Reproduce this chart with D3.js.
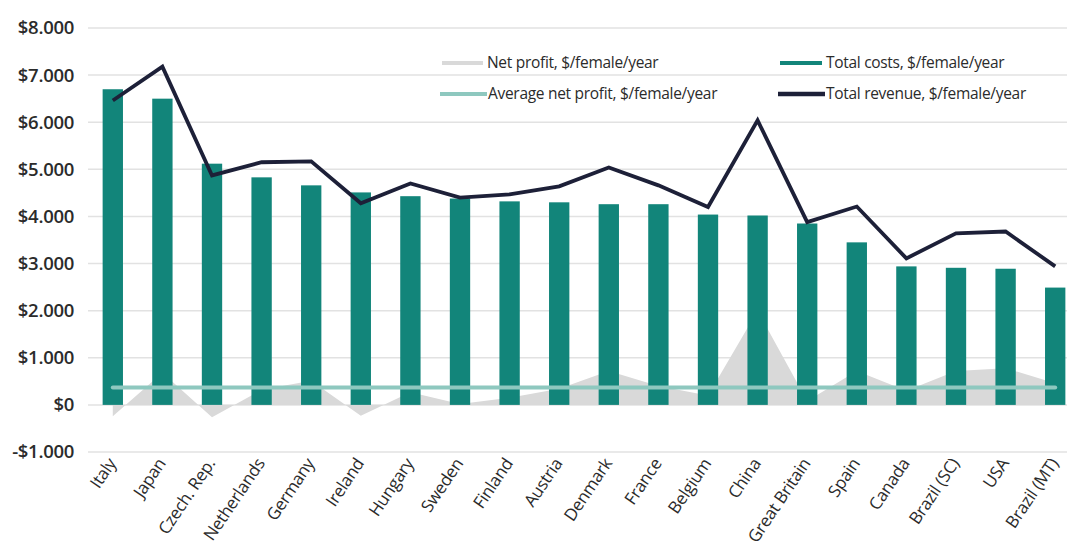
<!DOCTYPE html>
<html>
<head>
<meta charset="utf-8">
<script src="https://cdn.jsdelivr.net/npm/d3@7/dist/d3.min.js"></script>
<style>
  html, body { margin: 0; padding: 0; background: #fff; }
  svg { display: block; }
  text { font-family: "Open Sans", "Noto Sans", sans-serif; }
</style>
</head>
<body>
<svg id="chart" width="1067" height="554"></svg>
<script>
const categories = ["Italy", "Japan", "Czech. Rep.", "Netherlands", "Germany", "Ireland", "Hungary", "Sweden", "Finland", "Austria", "Denmark", "France", "Belgium", "China", "Great Britain", "Spain", "Canada", "Brazil (SC)", "USA", "Brazil (MT)"];
const totalCosts = [6700, 6500, 5120, 4830, 4660, 4510, 4430, 4380, 4320, 4300, 4260, 4260, 4040, 4020, 3850, 3450, 2940, 2910, 2890, 2490];
const totalRevenue = [6460, 7180, 4870, 5150, 5170, 4280, 4700, 4400, 4470, 4640, 5040, 4660, 4200, 6040, 3880, 4210, 3110, 3640, 3680, 2940];
const netProfit = [-240, 680, -260, 320, 510, -230, 270, 20, 150, 340, 720, 400, 200, 2000, 80, 720, 300, 720, 780, 460];
const averageNetProfit = 370;
const yTicks = [-1000, 0, 1000, 2000, 3000, 4000, 5000, 6000, 7000, 8000];
const legendItems = [
  { label: "Net profit, $/female/year", key: "profit" },
  { label: "Total costs, $/female/year", key: "costs" },
  { label: "Average net profit, $/female/year", key: "avg" },
  { label: "Total revenue, $/female/year", key: "revenue" }
];

const colors = { profit: "#d9d9d9", costs: "#12857a", avg: "#8ec8bf", revenue: "#1d2038", grid: "#e2e2e2", text: "#2b2b2b" };

const svg = d3.select("#chart");
const plotLeft = 88, plotRight = 1080, gridRight = 1067;
const x = d3.scaleBand().domain(categories).range([plotLeft, plotRight]).paddingInner(0.59).paddingOuter(0.295);
const y = d3.scaleLinear().domain([-1000, 8000]).range([452, 28]);
const cx = d => x(d) + x.bandwidth() / 2;

const fmt = v => {
  const s = v < 0 ? "-$" : "$";
  const a = Math.abs(v);
  if (a === 0) return "$0";
  return s + Math.floor(a / 1000) + "." + String(a % 1000).padStart(3, "0");
};

// gridlines
svg.append("g").selectAll("line").data(yTicks).join("line")
  .attr("x1", plotLeft).attr("x2", gridRight)
  .attr("y1", d => y(d)).attr("y2", d => y(d))
  .attr("stroke", colors.grid).attr("stroke-width", 1.5);

// y axis labels
const yAxis = d3.axisLeft(y).tickValues(yTicks).tickFormat(fmt).tickSize(0).tickPadding(0);
const yg = svg.append("g").attr("transform", `translate(74,0)`).call(yAxis);
yg.select(".domain").remove();
yg.selectAll("text").attr("font-size", 18.5).attr("font-weight", 600).attr("fill", colors.text)
  .attr("font-family", "\"Open Sans\", sans-serif").attr("letter-spacing", "-0.3");

// net profit area
const area = d3.area().x((d, i) => cx(categories[i])).y0(y(0)).y1(d => y(d));
svg.append("path").datum(netProfit).attr("d", area).attr("fill", colors.profit);

// bars
svg.append("g").selectAll("rect").data(totalCosts).join("rect")
  .attr("x", (d, i) => x(categories[i]))
  .attr("width", x.bandwidth())
  .attr("y", d => y(d))
  .attr("height", d => y(0) - y(d))
  .attr("fill", colors.costs);

// average line
svg.append("line")
  .attr("x1", cx(categories[0])).attr("x2", cx(categories[categories.length - 1]))
  .attr("y1", y(averageNetProfit)).attr("y2", y(averageNetProfit))
  .attr("stroke", colors.avg).attr("stroke-width", 4).attr("stroke-linecap", "round");

// revenue line
const line = d3.line().x((d, i) => cx(categories[i])).y(d => y(d));
svg.append("path").datum(totalRevenue).attr("d", line)
  .attr("fill", "none").attr("stroke", colors.revenue).attr("stroke-width", 3.8)
  .attr("stroke-linejoin", "miter");

// x axis labels
const xAxis = d3.axisBottom(x).tickSize(0).tickPadding(0);
const xg = svg.append("g").attr("transform", `translate(0,460)`).call(xAxis);
xg.select(".domain").remove();
xg.selectAll("text")
  .attr("font-size", 17).attr("font-weight", 500).attr("fill", colors.text)
  .attr("font-family", "\"Open Sans\", sans-serif")
  .attr("letter-spacing", "-0.3")
  .attr("text-anchor", "end")
  .attr("dy", "0.35em")
  .attr("transform", "translate(-1,0) rotate(-56)");

// legend
const legendPos = [
  { sx: 442, ex: 483, tx: 487, ty: 63 },
  { sx: 780, ex: 822, tx: 826, ty: 63 },
  { sx: 440, ex: 487, tx: 488, ty: 94 },
  { sx: 778, ex: 825, tx: 826, ty: 94 }
];
const lg = svg.append("g");
legendItems.forEach((item, i) => {
  const p = legendPos[i];
  lg.append("line").attr("x1", p.sx).attr("x2", p.ex).attr("y1", p.ty).attr("y2", p.ty)
    .attr("stroke", colors[item.key]).attr("stroke-width", item.key === "revenue" ? 4.5 : 4);
  lg.append("text").attr("x", p.tx).attr("y", p.ty).attr("dy", "0.35em")
    .attr("font-size", 15.5).attr("font-weight", 500).attr("letter-spacing", "-0.3")
    .attr("fill", colors.text).text(item.label);
});
</script>
</body>
</html>
